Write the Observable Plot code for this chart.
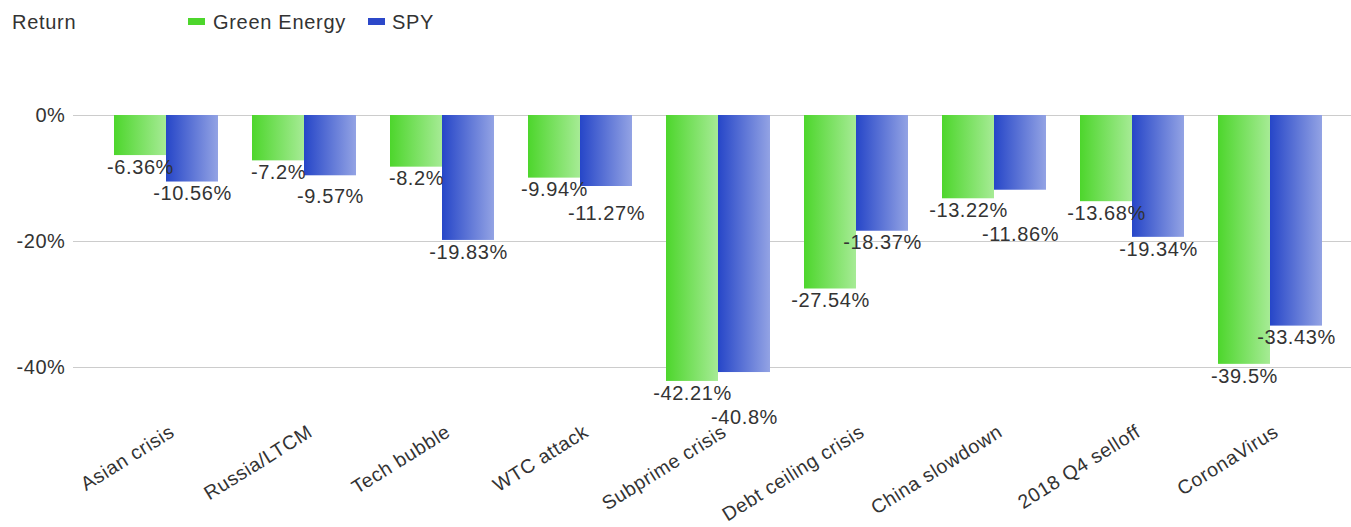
<!DOCTYPE html>
<html>
<head>
<meta charset="utf-8">
<script src="https://cdn.jsdelivr.net/npm/d3@7"></script>
<script src="https://cdn.jsdelivr.net/npm/@observablehq/plot@0.6"></script>
<style>
  html, body { margin: 0; padding: 0; background: #fff; }
  #wrap { position: relative; width: 1351px; height: 527px; font-family: "Liberation Sans", Arial, sans-serif; color: #333; }
  #legend { position: absolute; left: 0; top: 0; width: 1351px; height: 45px; font-size: 20px; letter-spacing: 0.7px; }
  #legend .t { position: absolute; top: 11px; white-space: nowrap; }
  #legend .sw { position: absolute; top: 18px; width: 17px; height: 7px; }
  #chart { position: absolute; left: 0; top: 0; }
  #chart svg text { letter-spacing: 0.6px; }
</style>
</head>
<body>
<div id="wrap">
  <div id="chart"></div>
  <div id="legend"></div>
</div>
<script>
const categories = ["Asian crisis", "Russia/LTCM", "Tech bubble", "WTC attack", "Subprime crisis", "Debt ceiling crisis", "China slowdown", "2018 Q4 selloff", "CoronaVirus"];
const greenEnergy = [-6.36, -7.2, -8.2, -9.94, -42.21, -27.54, -13.22, -13.68, -39.5];
const spy = [-10.56, -9.57, -19.83, -11.27, -40.8, -18.37, -11.86, -19.34, -33.43];
const greenLabels = ["-6.36%", "-7.2%", "-8.2%", "-9.94%", "-42.21%", "-27.54%", "-13.22%", "-13.68%", "-39.5%"];
const spyLabels = ["-10.56%", "-9.57%", "-19.83%", "-11.27%", "-40.8%", "-18.37%", "-11.86%", "-19.34%", "-33.43%"];
const yTicks = [0, -20, -40];
const seriesNames = ["Green Energy", "SPY"];

const W = 1351, H = 527, MT = 115, MB = 128.5;
const yDomain = [-45, 0];
const pxPerUnit = (H - MB - MT) / (yDomain[1] - yDomain[0]);
const labelGap = 24 / pxPerUnit; // one label line, in data units

const gData = categories.map((c, i) => ({cat: c, v: greenEnergy[i], label: greenLabels[i]}));
// SPY labels that would collide with the Green Energy label are pushed below it
const sData = categories.map((c, i) => {
  const v = spy[i], g = greenEnergy[i];
  const ly = Math.abs(v - g) < labelGap ? g - labelGap : v;
  return {cat: c, v, ly, label: spyLabels[i]};
});

const fontSize = 20;
const plot = Plot.plot({
  width: W,
  height: H,
  marginTop: MT,
  marginBottom: MB,
  marginLeft: 73,
  marginRight: 0,
  style: {fontFamily: "Liberation Sans, Arial, sans-serif", fontSize: fontSize + "px", color: "#333", background: "#fff"},
  x: {domain: categories, range: [97, 1339], paddingInner: 0.623, paddingOuter: 0.3115, label: null},
  y: {domain: yDomain, label: null},
  marks: [
    Plot.ruleY(yTicks, {stroke: "#cccccc", strokeWidth: 1.2}),
    Plot.barY(gData, {x: "cat", y: "v", dx: -26, fill: "url(#gradGreen)"}),
    Plot.barY(sData, {x: "cat", y: "v", dx: 26, fill: "url(#gradBlue)"}),
    Plot.text(gData, {x: "cat", y: "v", text: "label", dx: -26, dy: 4, lineAnchor: "top", fill: "#333", fontSize: fontSize}),
    Plot.text(sData, {x: "cat", y: "ly", text: "label", dx: 26, dy: 4, lineAnchor: "top", fill: "#333", fontSize: fontSize}),
    Plot.axisY({ticks: yTicks, tickFormat: d => d + "%", tickSize: 0, tickPadding: 8, fontSize: fontSize, fill: "#333"}),
    Plot.axisX({tickSize: 0, tickPadding: 31, tickRotate: -32, dx: 6, fontSize: 19.5, fill: "#333", label: null})
  ]
});

const svg = d3.select(plot);
const defs = svg.insert("defs", ":first-child");
function grad(id, c1, c2) {
  const g = defs.append("linearGradient").attr("id", id).attr("x1", "0").attr("x2", "1").attr("y1", "0").attr("y2", "0");
  g.append("stop").attr("offset", "0").attr("stop-color", c1);
  g.append("stop").attr("offset", "1").attr("stop-color", c2);
}
grad("gradGreen", "#4dd62c", "#a6eb95");
grad("gradBlue", "#2646c8", "#93a3e4");

document.getElementById("chart").appendChild(plot);

const legend = document.getElementById("legend");
legend.innerHTML = `
  <div class="t" style="left:12px">Return</div>
  <div class="sw" style="left:188px;background:#4dd62c"></div>
  <div class="t" style="left:213px">${seriesNames[0]}</div>
  <div class="sw" style="left:368px;background:#2c48c9"></div>
  <div class="t" style="left:392px">${seriesNames[1]}</div>
`;
</script>
</body>
</html>
